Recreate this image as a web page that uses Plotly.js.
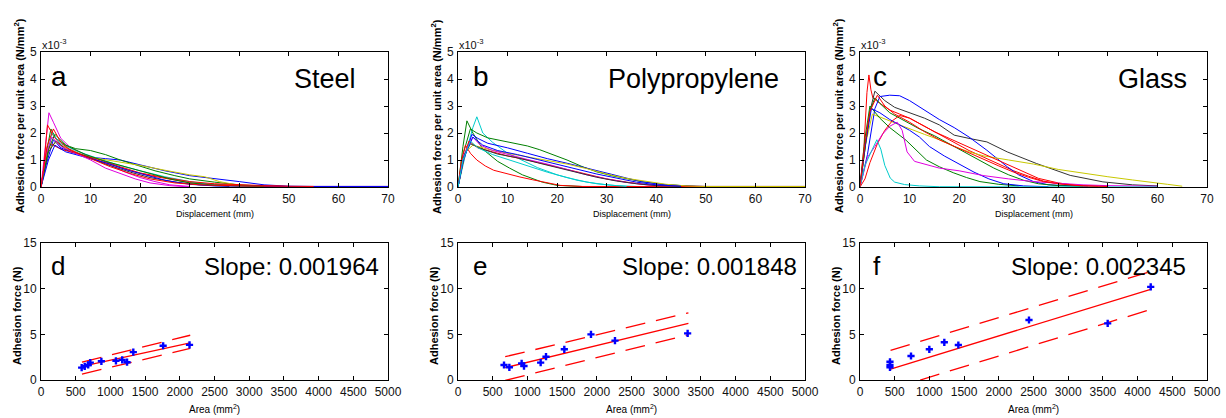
<!DOCTYPE html>
<html><head><meta charset="utf-8">
<script src="https://cdn.plot.ly/plotly-3.0.1.min.js"></script>
<style>html,body{margin:0;padding:0;background:#fff}#chart{width:1226px;height:418px}</style>
</head><body><div id="chart"></div><script>
// ---------- DATA (force per area in units of 1e-3 N/mm^2, displacement in mm) ----------
const steelColors = ['#0000ff','#008000','#e000e0','#ff0000','#00cccc','#c8c800','#ff0000','#333333','#0000ff','#008000','#e000e0','#ff0000'];
const steelX = [
  [0,1,2.5,4,6,10,13,16,20,25,30,35,40,45,50,55,70],
  [0,1,2,3,5,7,10,13,16,20,23,27,30,35,40,45,47],
  [0,0.7,1.6,2.5,4,6,10,14,17,20,23,26,30],
  [0,0.5,1.3,2.5,4,7,10,14,18,22,26,30,35,40,50,70],
  [0,1,2.2,4,7,10,15,20,25,30,35,40],
  [0,1.5,3,6,10,15,20,25,30,33,36,40,44],
  [0,1,2,4,8,12,16,20,25,30,35,40,45,50],
  [0,1.5,3,5,9,13,18,22,27,32,38],
  [0,1.5,2.8,5,9,13,17,21,25,30,35,50,70],
  [0,1.5,2.8,5,9,13,18,22,26,30,35,45],
  [0,1,2.2,4,7,10,13,16,19,22,26,30],
  [0,1.2,2.5,4,6,10,14,18,22,27,32,40,55]
];
const steelY = [
  [0,0.8,1.75,1.45,1.3,1.1,1.05,1.0,0.82,0.6,0.42,0.32,0.2,0.08,0.03,0.02,0.02],
  [0,1.2,2.15,1.8,1.55,1.42,1.35,1.2,1.0,0.78,0.6,0.42,0.3,0.18,0.08,0.03,0],
  [0,1.2,2.75,2.4,1.8,1.45,1.1,0.8,0.55,0.35,0.2,0.08,0.02],
  [0,0.6,2.3,1.9,1.55,1.3,1.05,0.85,0.6,0.42,0.28,0.16,0.1,0.06,0.02,0.02],
  [0,1.0,2.0,1.6,1.35,1.15,0.85,0.6,0.38,0.2,0.08,0.03],
  [0,1.4,1.65,1.35,1.1,0.95,0.8,0.62,0.45,0.38,0.2,0.06,0.02],
  [0,1.2,1.6,1.4,1.2,1.0,0.75,0.52,0.35,0.2,0.12,0.08,0.04,0.02],
  [0,1.3,1.7,1.4,1.15,0.85,0.55,0.35,0.18,0.08,0.02],
  [0,1.0,1.55,1.3,1.1,0.9,0.65,0.45,0.25,0.1,0.04,0.02,0.02],
  [0,1.4,1.95,1.55,1.2,0.95,0.7,0.5,0.3,0.15,0.07,0.02],
  [0,1.2,1.85,1.5,1.25,1.0,0.7,0.5,0.3,0.15,0.05,0],
  [0,1.5,2.15,1.65,1.35,1.05,0.75,0.5,0.3,0.15,0.08,0.04,0.02]
];

const polyColors = ['#008000','#00cccc','#008000','#0000ff','#ff0000','#ff0000','#c8c800','#e000e0','#333333','#0000ff','#00cccc'];
const polyX = [
  [0,1,1.8,3,5,8,10.4,13,17,20,25],
  [0,1.5,3,3.8,5,7,10,13,16,20,24,28,32,36],
  [0,1,2.5,3.8,6,9,12,14,16.5,18.6,22,25,28,31,34,37,41,45,48],
  [0,1,2.8,4,6,10,14,18,22,25,28,31,34,37,41,45,50,60,70],
  [0,0.7,1.5,2.5,3.8,5.5,7.2,10,12.5,15,17.2,20.6,25,40,70],
  [0,1,2.2,4,7,10,14,18,22,26,30,34,38,42,50,70],
  [0,1.5,3,6,10,14,18,22,26,30,34,38,42,46,50,70],
  [0,1.2,3,4.5,7,10,14,18,22,26,30,34,38,44],
  [0,1.3,2.5,5,8,12,16,20,24,28,32,36,40,45],
  [0,1.2,3,5,8,12,16,20,24,28,32,36,40,45],
  [0,1,2.5,4,7,10,14,18,22,26,30,34]
];
const polyY = [
  [0,1.5,2.45,2.0,1.4,0.95,0.7,0.45,0.18,0.06,0.02],
  [0,1.2,2.2,2.6,2.0,1.65,1.25,1.0,0.72,0.45,0.25,0.12,0.05,0.02],
  [0,1.2,2.15,2.0,1.82,1.7,1.6,1.52,1.38,1.24,1.0,0.76,0.56,0.42,0.3,0.2,0.1,0.05,0.02],
  [0,0.9,1.95,1.8,1.62,1.45,1.25,1.05,0.88,0.75,0.6,0.47,0.33,0.2,0.1,0.05,0.02,0.02,0.02],
  [0,1.0,1.55,1.25,1.0,0.78,0.62,0.48,0.37,0.27,0.19,0.06,0.02,0.01,0.01],
  [0,1.0,1.7,1.45,1.3,1.15,1.0,0.82,0.65,0.47,0.3,0.18,0.09,0.04,0.02,0.02],
  [0,1.3,1.55,1.4,1.25,1.12,1.0,0.85,0.68,0.48,0.32,0.2,0.1,0.04,0.02,0.02],
  [0,1.2,1.85,1.55,1.35,1.2,1.02,0.85,0.65,0.45,0.3,0.17,0.08,0.03],
  [0,1.2,1.6,1.4,1.22,1.08,0.9,0.72,0.53,0.36,0.22,0.12,0.05,0.02],
  [0,1.1,1.85,1.55,1.35,1.2,1.02,0.85,0.66,0.48,0.32,0.18,0.08,0.03],
  [0,1.0,1.7,1.45,1.2,1.02,0.78,0.55,0.35,0.18,0.08,0.02]
];

const glassColors = ['#ff0000','#333333','#0000ff','#c8c800','#008000','#008000','#0000ff','#ff0000','#e000e0','#00cccc','#ff0000'];
const glassX = [
  [0,0.8,1.4,1.8,2.2,2.6,4,6,8,10,13,16,19,22,25,28,31,34,37,40,44,50],
  [0,1,2,3,5,7,10,13,16,19,22,25.6,29.7,35.6,42.4,49,55,60],
  [0,1.5,3,4,6,8,10,13,16,19,22,25.6,29.7,32,35,38,42,46],
  [0,1,2.5,4,6,8,10,13,16,19,22,25,30,35,40,45.7,50,55,59,62,65],
  [0,1,2,3,4,6,9,12,15,18,21,24,27,30,33,36,40,45],
  [0,1,2,4,6,9.3,13.4,16,18.8,21.5,24.2,28,32],
  [0,1,2.3,4,6,8,10,12,14,17,20,23,26,29,33,38],
  [0,1,2,3.5,5,6.5,8,10,12,15,18,21,24,27,30,33,36,40,44,48],
  [0,1.5,3,4.5,6,7.5,8.5,9.5,11,13,16,20,25,30,35,40,45,50,55,60],
  [0,1,2.5,3.4,4.2,5,6.1,7,9,12,16,30,50,60],
  [0,1,2,3.5,5,7,10,13,16,19,22,25,28,31,34,37,41,45,50]
];
const glassY = [
  [0,1.5,3.5,4.15,3.6,3.3,3.1,2.85,2.7,2.55,2.25,1.95,1.65,1.35,1.1,0.85,0.6,0.4,0.22,0.12,0.06,0.03],
  [0,1.5,2.8,3.55,3.2,2.95,2.75,2.55,2.3,1.92,1.8,1.67,1.3,0.87,0.43,0.19,0.08,0.04],
  [0,1.2,2.9,3.35,3.4,3.38,3.2,2.85,2.5,2.2,1.85,1.36,0.75,0.45,0.2,0.08,0.04,0.02],
  [0,1.5,2.7,2.6,2.45,2.3,2.15,1.95,1.75,1.5,1.3,1.15,1.0,0.85,0.65,0.49,0.38,0.26,0.18,0.1,0.03],
  [0,1.4,2.8,3.3,3.1,2.75,2.45,2.15,1.9,1.6,1.3,1.0,0.7,0.45,0.25,0.12,0.05,0.02],
  [0,1.8,3.0,2.55,2.2,1.73,1.0,0.75,0.53,0.35,0.2,0.1,0.04],
  [0,1.5,2.9,2.75,2.5,2.3,2.1,1.85,1.5,1.15,0.85,0.55,0.3,0.12,0.04,0.01],
  [0,0.3,0.9,1.6,2.1,2.45,2.65,2.55,2.35,2.05,1.8,1.55,1.3,1.05,0.8,0.55,0.32,0.15,0.05,0.02],
  [0,1.1,1.5,1.95,2.25,2.4,2.1,1.3,0.95,0.85,0.7,0.6,0.42,0.3,0.2,0.14,0.08,0.05,0.04,0.03],
  [0,0.8,1.4,1.75,1.4,0.8,0.33,0.18,0.09,0.04,0.01,0,0,0],
  [0,1.6,2.8,3.4,3.0,2.7,2.4,2.05,1.75,1.5,1.25,1.0,0.78,0.55,0.36,0.2,0.1,0.04,0.02]
];

// Area (mm^2) vs adhesion force (N)
const steelArea  = [586,630,680,710,870,1080,1170,1240,1330,1760,2140];
const steelForce = [1.35,1.5,1.65,1.9,2.05,2.1,2.2,1.95,3.05,3.75,3.85];
const polyArea   = [663,740,917,951,1191,1268,1532,1916,2262,3309];
const polyForce  = [1.64,1.39,1.82,1.53,1.9,2.55,3.36,5.0,4.31,5.1];
const glassArea  = [432,432,432,735,999,1215,1417,2435,3569,4189];
const glassForce = [2.0,1.64,1.39,2.63,3.36,4.13,3.83,6.57,6.2,10.2];

// Fit line and prediction bounds (end points)
const steelFitX = [590,2150], steelFitMid = [1.5,4.07], steelFitUp = [1.95,4.9], steelFitLow = [0.65,3.45];
const polyFitX  = [680,3320], polyFitMid  = [1.35,6.2], polyFitUp  = [2.55,7.35], polyFitLow  = [-0.05,4.95];
const glassFitX = [440,4200], glassFitMid = [1.2,9.95], glassFitUp = [3.25,11.9], glassFitLow = [-1.0,7.75];

const panelLetters = ['a','b','c','d','e','f'];
const materials = ['Steel','Polypropylene','Glass'];
const slopes = ['Slope: 0.001964','Slope: 0.001848','Slope: 0.002345'];
const dispTicks = [0,10,20,30,40,50,60,70];
const forcePerAreaTicks = [0,1,2,3,4,5];
const areaTicks = [0,500,1000,1500,2000,2500,3000,3500,4000,4500,5000];
const forceTicks = [0,5,10,15];

// ---------- BUILD ----------
const W = 1226, H = 418;
const px = x => x / W, py = y => 1 - y / H;
const traces = [];
const tops = [[steelX,steelY,steelColors],[polyX,polyY,polyColors],[glassX,glassY,glassColors]];
tops.forEach((p, i) => {
  const ax = i === 0 ? '' : String(i + 1);
  p[0].forEach((xs, k) => {
    traces.push({x: xs, y: p[1][k], type: 'scatter', mode: 'lines', xaxis: 'x' + ax, yaxis: 'y' + ax,
      line: {color: p[2][k], width: 1}, hoverinfo: 'skip', showlegend: false});
  });
});
const bots = [
  [steelArea,steelForce,steelFitX,steelFitMid,steelFitUp,steelFitLow],
  [polyArea,polyForce,polyFitX,polyFitMid,polyFitUp,polyFitLow],
  [glassArea,glassForce,glassFitX,glassFitMid,glassFitUp,glassFitLow]
];
bots.forEach((b, i) => {
  const ax = String(i + 4);
  const base = {type: 'scatter', mode: 'lines', xaxis: 'x' + ax, yaxis: 'y' + ax, showlegend: false, hoverinfo: 'skip'};
  traces.push(Object.assign({}, base, {x: b[2], y: b[3], line: {color: '#ff0000', width: 1.3}}));
  traces.push(Object.assign({}, base, {x: b[2], y: b[4], line: {color: '#ff0000', width: 1.3, dash: '20px,11px'}}));
  traces.push(Object.assign({}, base, {x: b[2], y: b[5], line: {color: '#ff0000', width: 1.3, dash: '20px,11px'}}));
  traces.push(Object.assign({}, base, {x: b[0], y: b[1], mode: 'markers',
    marker: {symbol: 'cross', size: 6, color: '#0000ff', line: {width: 0}}}));
});

const colsPx = [[41,388],[458,805],[860,1207]];
const topPx = [52,187], botPx = [243,380];
const tickFont = {family: 'Liberation Sans Narrow, Arial Narrow, Liberation Sans, Arial, sans-serif', size: 12, color: '#111'};
function axis(dom, range, tickvals, anchor) {
  return {domain: dom, range: range, tickvals: tickvals, ticktext: tickvals.map(String), anchor: anchor,
    showline: true, linecolor: '#000', linewidth: 1, mirror: 'ticks', ticks: 'inside', ticklen: 4,
    tickcolor: '#000', showgrid: false, zeroline: false, tickfont: tickFont, fixedrange: true, ticklabelstandoff: 1};
}
const layout = {width: W, height: H, margin: {l: 0, r: 0, t: 0, b: 0}, paper_bgcolor: '#fff', plot_bgcolor: '#fff',
  showlegend: false, annotations: []};
for (let i = 0; i < 3; i++) {
  const xd = [px(colsPx[i][0]), px(colsPx[i][1])];
  const t = i === 0 ? '' : String(i + 1), b = String(i + 4);
  layout['xaxis' + t] = axis(xd, [0, 70], dispTicks, 'y' + t);
  layout['yaxis' + t] = axis([py(topPx[1]), py(topPx[0])], [0, 5], forcePerAreaTicks, 'x' + t);
  layout['xaxis' + b] = axis(xd, [0, 5000], areaTicks, 'y' + b);
  layout['yaxis' + b] = axis([py(botPx[1]), py(botPx[0])], [0, 15], forceTicks, 'x' + b);
}
const F = 'Liberation Sans, Arial, sans-serif';
function ann(text, x, y, size, xa, ya, extra) {
  layout.annotations.push(Object.assign({text: text, x: px(x), y: py(y), xref: 'paper', yref: 'paper', showarrow: false,
    xanchor: xa, yanchor: ya, font: {family: F, size: size, color: '#000'}}, extra || {}));
}
const letterX = [49, 471, 871];
const matRight = [358, 781, 1189];
const slopeRight = [381, 799, 1188];
for (let i = 0; i < 3; i++) {
  const cx = (colsPx[i][0] + colsPx[i][1]) / 2;
  ann(panelLetters[i], letterX[i], 76, 28, 'left', 'middle');
  ann(materials[i], matRight[i], 79, 27, 'right', 'middle');
  ann(panelLetters[i + 3], letterX[i], 266, 26, 'left', 'middle');
  ann(slopes[i], slopeRight[i], 266, 24, 'right', 'middle');
  ann('x10<sup>-3</sup>', colsPx[i][0] - 1, 44, 10, 'left', 'middle', {font: {family: tickFont.family, size: 11, color: '#111'}});
  ann('Displacement (mm)', cx, 214, 9, 'center', 'middle');
  ann('Area (mm<sup>2</sup>)', cx, 409, 10, 'center', 'middle');
  ann('<b>Adhesion force per unit area (N/mm<sup>2</sup>)</b>', colsPx[i][0] - 22, 116, 11, 'center', 'middle', {textangle: -90});
  ann('<b>Adhesion force (N)</b>', colsPx[i][0] - 24, 316, 11, 'center', 'middle', {textangle: -90});
}
Plotly.newPlot('chart', traces, layout, {staticPlot: true, displayModeBar: false});
</script></body></html>
